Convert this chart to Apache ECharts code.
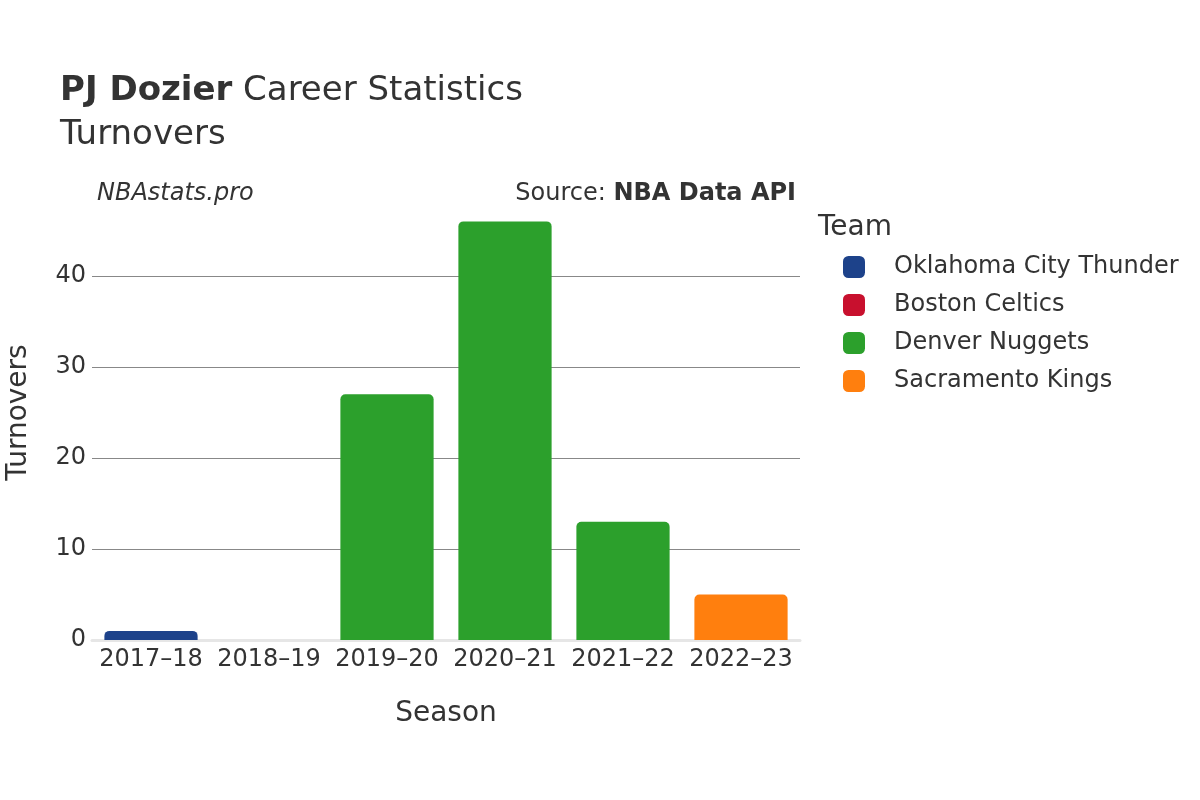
<!DOCTYPE html>
<html>
<head>
<meta charset="utf-8">
<script src="https://cdn.jsdelivr.net/npm/echarts@6/dist/echarts.min.js"></script>
<style>
  html, body { margin: 0; padding: 0; background: #fff; }
  #main { width: 1200px; height: 800px; }
</style>
</head>
<body>
<div id="main"></div>
<script>
// seasons and turnovers per team
var seasons = ['2017–18', '2018–19', '2019–20', '2020–21', '2021–22', '2022–23'];
var teams = ['Oklahoma City Thunder', 'Boston Celtics', 'Denver Nuggets', 'Sacramento Kings'];
var teamColors = ['#1d428a', '#c8102e', '#2ca02c', '#ff7f0e'];
var okcTov = [1, null, null, null, null, null];
var bosTov = [null, 0, null, null, null, null];
var denTov = [null, null, 27, 46, 13, null];
var sacTov = [null, null, null, null, null, 5];
var yTicks = [0, 10, 20, 30, 40];

var font = 'DejaVu Sans';
var chart = echarts.init(document.getElementById('main'));

var seriesData = [okcTov, bosTov, denTov, sacTov];
var series = teams.map(function (name, i) {
    return {
        name: name,
        type: 'bar',
        stack: 'tov',
        barCategoryGap: '21%',
        data: seriesData[i],
        itemStyle: { color: teamColors[i], borderRadius: [5, 5, 0, 0] }
    };
});

var option = {
    backgroundColor: '#fff',
    textStyle: { fontFamily: font },
    title: [{
        left: 60, top: 69, padding: 0,
        text: '{b|PJ Dozier}{n| Career Statistics}\n{n|Turnovers}',
        textStyle: {
            fontWeight: 'normal',
            rich: {
                b: { fontFamily: font, fontSize: 34, fontWeight: 'bold', color: '#333', lineHeight: 44 },
                n: { fontFamily: font, fontSize: 34, fontWeight: 'normal', color: '#333', lineHeight: 44 }
            }
        }
    }, {
        left: 97, top: 182, padding: 0,
        text: 'NBAstats.pro',
        textStyle: { fontFamily: font, fontSize: 24, fontStyle: 'italic', fontWeight: 'normal', color: '#333' }
    }, {
        right: 404, top: 182, padding: 0,
        text: '{n|Source: }{b|NBA Data API}',
        textStyle: {
            fontWeight: 'normal',
            rich: {
                n: { fontFamily: font, fontSize: 24, fontWeight: 'normal', color: '#333' },
                b: { fontFamily: font, fontSize: 24, fontWeight: 'bold', color: '#333' }
            }
        }
    }, {
        left: 818, top: 214, padding: 0,
        text: 'Team',
        textStyle: { fontFamily: font, fontSize: 28, fontWeight: 'normal', color: '#333' }
    }],
    legend: {
        orient: 'vertical',
        left: 843, top: 255, padding: 0,
        itemWidth: 22, itemHeight: 22,
        itemGap: 14,
        icon: 'roundRect',
        selectedMode: false,
        data: teams,
        textStyle: { fontFamily: font, fontSize: 24, color: '#333', padding: [0, 0, 0, 24] }
    },
    grid: { left: 92, right: 400, top: 185, bottom: 160, containLabel: false, outerBoundsMode: 'none' },
    xAxis: {
        type: 'category',
        data: seasons,
        name: 'Season',
        nameLocation: 'middle',
        nameGap: 60,
        nameTextStyle: { fontFamily: font, fontSize: 28, color: '#333' },
        axisLine: { show: true, lineStyle: { color: '#e6e6e6', width: 3 } },
        axisTick: { show: false },
        axisLabel: { interval: 0, fontFamily: font, fontSize: 24, color: '#333', margin: 8 }
    },
    yAxis: {
        type: 'value',
        min: 0, max: 50, interval: 10,
        name: 'Turnovers',
        nameLocation: 'middle',
        nameGap: 59,
        nameTextStyle: { fontFamily: font, fontSize: 28, color: '#333' },
        axisLine: { show: false },
        axisTick: { show: false },
        axisLabel: {
            fontFamily: font, fontSize: 24, color: '#333', margin: 6,
            padding: [6, 0, 0, 0],
            showMaxLabel: false,
            formatter: function (v) { return yTicks.indexOf(v) >= 0 ? String(v) : ''; }
        },
        splitLine: { show: true, showMinLine: false, showMaxLine: false, lineStyle: { color: '#888', width: 1 } }
    },
    series: series
};

chart.setOption(option);
</script>
</body>
</html>
